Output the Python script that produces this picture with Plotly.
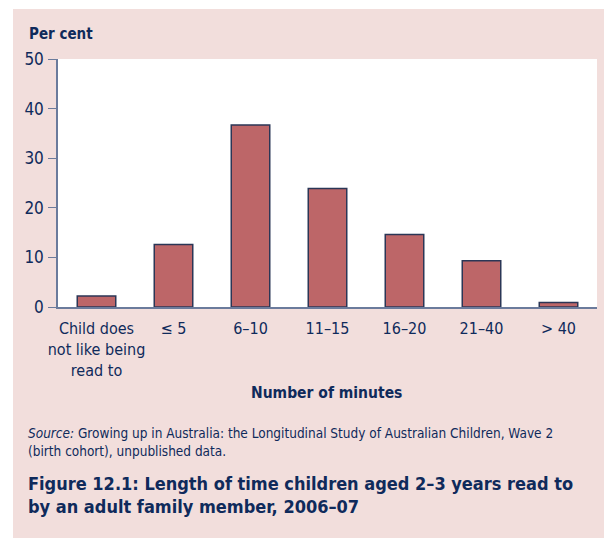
import plotly.graph_objects as go

categories = ["Child does<br>not like being<br>read to", "\u2264 5", "6\u201310", "11\u201315",
              "16\u201320", "21\u201340", "> 40"]
per_cent = [2.2, 12.6, 36.7, 23.9, 14.6, 9.3, 0.9]
y_ticks = [0, 10, 20, 30, 40, 50]

NAVY = "#0f2a5b"
PINK = "#f2dedc"
FONT = "DejaVu Sans Condensed, Liberation Sans, Arial, sans-serif"

W, H = 604, 538
L, R, T, B = 58, 7, 59, 231
pw, ph = W - L - R, H - T - B


def px(x):
    return (x - L) / pw


def py(y):
    return (H - B - y) / ph


fig = go.Figure()
fig.add_trace(go.Bar(
    x=categories, y=per_cent, width=0.5,
    marker=dict(color="#bd6668", line=dict(color="#2b3656", width=1.5)),
))

fig.update_layout(
    width=W, height=H,
    margin=dict(l=L, r=R, t=T, b=B),
    paper_bgcolor=PINK, plot_bgcolor="white",
    font=dict(family=FONT, color=NAVY, size=16),
    showlegend=False,
)
fig.update_xaxes(
    range=[-0.5, 6.5], showline=True, linecolor="#6b7b9c", linewidth=1.5,
    ticks="", tickfont=dict(size=16), ticklabelstandoff=6,
)
fig.update_yaxes(
    range=[0, 50], tickvals=y_ticks, showline=True, linecolor="#6b7b9c",
    linewidth=1.5, ticks="outside", ticklen=8, tickcolor="#6b7b9c",
    tickwidth=1.2, showgrid=False, zeroline=False, tickfont=dict(size=17),
    ticklabelstandoff=1,
)

# white strip left and top of the pink panel
fig.add_shape(type="rect", xref="paper", yref="paper", x0=px(-5), x1=px(13),
              y0=py(H + 5), y1=py(-5), fillcolor="white", line_width=0, layer="below")
fig.add_shape(type="rect", xref="paper", yref="paper", x0=px(-5), x1=px(W + 5),
              y0=py(9), y1=py(-5), fillcolor="white", line_width=0, layer="below")

fig.add_annotation(text="<b>Per cent</b>", xref="paper", yref="paper", x=px(27), y=py(34),
                   xanchor="left", yanchor="middle", showarrow=False, font=dict(size=15))
fig.add_annotation(text="<b>Number of minutes</b>", xref="paper", yref="paper",
                   x=px(326), y=py(393), xanchor="center", yanchor="middle",
                   showarrow=False, font=dict(size=15.5))
fig.add_annotation(
    text="<i>Source:</i> Growing up in Australia: the Longitudinal Study of Australian Children, Wave 2"
         "<br>(birth cohort), unpublished data.",
    xref="paper", yref="paper", x=px(26), y=py(442), xanchor="left", yanchor="middle",
    align="left", showarrow=False, font=dict(size=13.5))
fig.add_annotation(
    text="<b>Figure 12.1: Length of time children aged 2\u20133 years read to"
         "<br>by an adult family member, 2006\u201307</b>",
    xref="paper", yref="paper", x=px(26), y=py(495), xanchor="left", yanchor="middle",
    align="left", showarrow=False, font=dict(size=18))

fig.write_html("out.html", config={"displayModeBar": False},
               post_script="document.body.style.margin='0';")
